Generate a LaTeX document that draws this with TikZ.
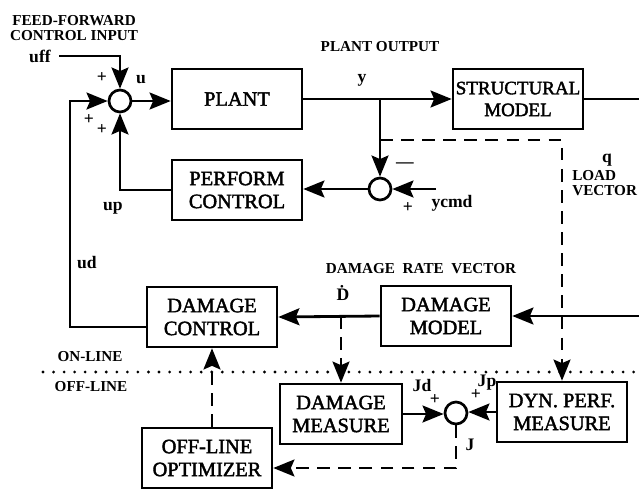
\documentclass[tikz,border=0pt]{standalone}
\usepackage{fontspec}
\setmainfont{Liberation Serif}
\newfontfamily\boxfont[FakeBold=2]{Liberation Serif}
\usepackage{tikz}
\usetikzlibrary{arrows.meta, positioning, calc}

\begin{document}
\begin{tikzpicture}[
    x=0.025cm, y=-0.025cm,
    block/.style={rectangle, draw, line width=1.8pt, minimum width=3.25cm, minimum height=1.5cm, align=center, inner sep=2pt, font=\boxfont\fontsize{14.5}{16.3}\selectfont},
    sumnode/.style={circle, draw, line width=1.9pt, minimum size=0.55cm, inner sep=0pt},
    sig/.style={-{Stealth[length=15pt, width=12pt, inset=2.5pt]}, line width=2pt},
    offsig/.style={sig, dash pattern=on 9pt off 6pt},
    sep/.style={line width=2.2pt, line cap=round, dash pattern=on 0pt off 7.5pt},
    lbl/.style={font=\bfseries\fontsize{10.8}{10.6}\selectfont, align=center, inner sep=0pt},
    var/.style={font=\bfseries\fontsize{12.5}{13}\selectfont, inner sep=0pt},
    sgn/.style={font=\bfseries\fontsize{12.5}{12}\selectfont, inner sep=0pt}
]
    \useasboundingbox (0,0) rectangle (639,489);

    % Blocks
    \node[block] (plant) at (237,99) {PLANT};
    \node[block, font=\boxfont\fontsize{13.5}{15.5}\selectfont] (struct) at (518,99) {STRUCTURAL\\MODEL};
    \node[block] (perf) at (237,190) {PERFORM\\CONTROL};
    \node[block] (dmgctl) at (212,317) {DAMAGE\\CONTROL};
    \node[block] (dmgmod) at (446,316) {DAMAGE\\MODEL};
    \node[block, minimum width=3.05cm] (dmgmeas) at (341,414) {DAMAGE\\MEASURE};
    \node[block] (dynperf) at (562,412) {DYN. PERF.\\MEASURE};
    \node[block] (optim) at (207,458) {OFF-LINE\\OPTIMIZER};

    % Summing junctions
    \node[sumnode] (sum1) at (120,101) {};
    \node[sumnode] (sum2) at (380,189) {};
    \node[sumnode] (sum3) at (456,413) {};

    % Labels
    \node[lbl] (ffwd) at (74,28) {FEED-FORWARD\\CONTROL INPUT};
    \node[var, anchor=east] (uff) at (51,56) {uff};
    \node[lbl] (pout) at (380,47) {PLANT OUTPUT};
    \node[var] (ulbl) at (141,80) {u};
    \node[var] (ylbl) at (362,80) {y};
    \node[var] (uplbl) at (113,208) {up};
    \node[var] (udlbl) at (87,263) {ud};
    \node[var] (ycmd) at (452,203) {ycmd};
    \node[var] (qlbl) at (607,160) {q};
    \node[lbl, anchor=west, align=left] (load) at (572,183) {LOAD\\VECTOR};
    \node[lbl] (drate) at (421,269) {DAMAGE~~RATE~~VECTOR};
    \node[var] (ddot) at (343,293) {\.{D}};
    \node[lbl] (online) at (90,357) {ON-LINE};
    \node[lbl] (offline) at (91,387) {OFF-LINE};
    \node[var] (jd) at (422,385) {Jd};
    \node[var] (jp) at (487,383) {Jp};
    \node[var] (jlbl) at (470,445) {J};

    % Signs at the junctions
    \node[sgn] (s1a) at (102,78) {+};
    \node[sgn] (s1b) at (89,120) {+};
    \node[sgn] (s1c) at (102,130) {+};
    \node[sgn] (s2a) at (405,165) {---};
    \node[sgn] (s2b) at (408,208) {+};
    \node[sgn] (s3a) at (435,400) {+};
    \node[sgn] (s3b) at (476,395) {+};

    % Helper points
    \coordinate (ybr) at (sum2 |- plant.east);
    \coordinate (ydash) at (380,140);
    \coordinate (ycmdin) at (436,189);
    \coordinate (rim) at (641,200);
    \coordinate (udbend) at (70,327);
    \coordinate (dbr) at (dmgmeas.north |- dmgmod.west);
    \coordinate (jbend) at (456,468);
    \coordinate (onL) at (43,372);
    \coordinate (onR) at (639,372);

    % On-line signal paths
    \draw[sig] ([xshift=6pt]uff.east) -| (sum1.north);
    \draw[sig] (sum1.east) -- (sum1.east -| plant.west);
    \draw[sig] (plant.east) -- (struct.west);
    \draw[sig] (struct.east) -- (struct.east -| rim) |- (dmgmod.east);
    \draw[sig] (dmgmod.west) -- (dmgctl.east);
    \draw[sig] (dmgctl.west |- udbend) -- (udbend) |- (sum1.west);
    \draw[sig] (perf.west) -| (sum1.south);
    \draw[sig] (ybr) -- (sum2.north);
    \draw[sig] (ycmdin) -- (sum2.east);
    \draw[sig] (sum2.west) -- (sum2.west -| perf.east);

    % Off-line paths
    \draw[sep] (onL) -- (onR);
    \draw[offsig] (ydash) -| (dynperf.north);
    \draw[offsig] (dbr) -- (dmgmeas.north);
    \draw[sig] (dmgmeas.east) -- (dmgmeas.east -| sum3.west);
    \draw[sig] (dynperf.west) -- (dynperf.west -| sum3.east);
    \draw[offsig] (sum3.south) -- (jbend) -- (optim.east |- jbend);
    \draw[offsig] (dmgctl.south |- optim.north) -- (dmgctl.south);

\end{tikzpicture}
\end{document}
